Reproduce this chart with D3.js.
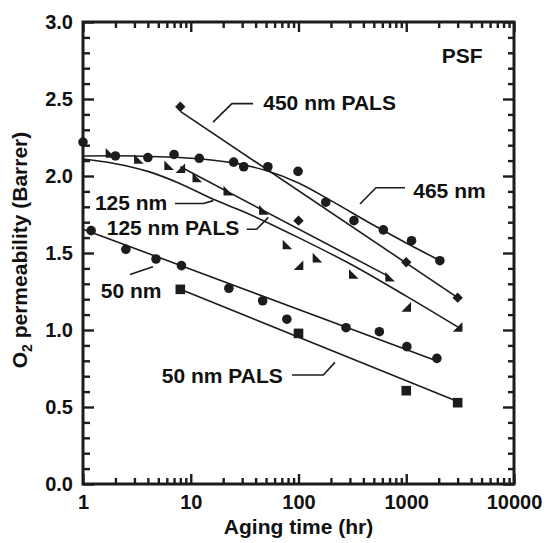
<!DOCTYPE html>
<html><head><meta charset="utf-8">
<script src="https://cdn.jsdelivr.net/npm/d3@7"></script>
<style>
body{margin:0;background:#fff;}
text{font-family:"Liberation Sans",Arial,sans-serif;font-weight:bold;fill:#111;}
</style></head>
<body><svg id="c" width="547" height="543"></svg>
<script>
// ---- data ----
const t465 = [1, 2, 4, 7, 12, 25, 31, 52, 99, 179, 327, 613, 1120, 2050];
const v465 = [2.22, 2.13, 2.12, 2.14, 2.115, 2.09, 2.06, 2.06, 2.03, 1.83, 1.71, 1.65, 1.58, 1.45];
const fitT465 = [1, 3, 10, 25, 50, 100, 200, 500, 1000, 2000];
const fitV465 = [2.13, 2.13, 2.115, 2.085, 2.035, 1.955, 1.84, 1.68, 1.565, 1.455];

const t450P = [8, 100, 1000, 3000];
const v450P = [2.45, 1.71, 1.44, 1.21];
const fitT450P = [8, 3000];
const fitV450P = [2.42, 1.21];

const t125 = [1.8, 3.3, 6.3, 11.5, 22.3, 47.7, 79, 150, 326, 708];
const v125 = [2.15, 2.11, 2.07, 1.99, 1.905, 1.78, 1.555, 1.47, 1.364, 1.346];
const fitT125 = [8, 700];
const fitV125 = [2.06, 1.345];

const t125P = [8, 100, 1000, 3000];
const v125P = [2.05, 1.42, 1.15, 1.02];
const fitT125P = [1, 2, 4, 8, 16, 33, 100, 300, 1000, 3000];
const fitV125P = [2.11, 2.08, 2.03, 1.95, 1.85, 1.76, 1.60, 1.43, 1.22, 1.02];

const t50 = [1.19, 2.5, 4.76, 8.2, 22.6, 46.5, 78, 276, 563, 1013, 1925];
const v50 = [1.645, 1.524, 1.461, 1.418, 1.271, 1.19, 1.07, 1.015, 0.989, 0.892, 0.816];
const fitT50 = [1, 1900];
const fitV50 = [1.655, 0.80];

const t50P = [8, 100, 1000, 3000];
const v50P = [1.264, 0.978, 0.606, 0.528];
const fitT50P = [8, 3000];
const fitV50P = [1.265, 0.535];

const xMajor = [1, 10, 100, 1000, 10000];
const xMajorLabels = ["1", "10", "100", "1000", "10000"];
const yMajor = [0, 0.5, 1.0, 1.5, 2.0, 2.5, 3.0];
const yMajorLabels = ["0.0", "0.5", "1.0", "1.5", "2.0", "2.5", "3.0"];

// annotations in data coordinates [t, v]
const annotations = [
  {text: "PSF", at: [2133, 2.736], leader: []},
  {text: "450 nm PALS", at: [47.1, 2.43], leader: [[37.8, 2.47], [24.1, 2.47], [16.1, 2.35]]},
  {text: "465 nm", at: [1162, 1.855], leader: [[973, 1.924], [524, 1.924], [372, 1.818]]},
  {text: "125 nm", at: [1.29, 1.779], leader: [[7.14, 1.821], [13.1, 1.821], [16.2, 1.84]]},
  {text: "125 nm PALS", at: [1.66, 1.617], leader: [[33.1, 1.654], [40.9, 1.654], [52.5, 1.731]]},
  {text: "50 nm", at: [1.46, 1.206], leader: [[2.73, 1.36], [4.46, 1.411]]},
  {text: "50 nm PALS", at: [5.38, 0.658], leader: [[87, 0.708], [170, 0.708], [218, 0.79]]}
];

// ---- chart ----
const svg = d3.select("#c");
const L = 83, R = 514, T = 22, B = 484;
const x = d3.scaleLog().domain([1, 10000]).range([L, R]);
const y = d3.scaleLinear().domain([0, 3]).range([B, T]);
const ink = "#1e1b1c";

const xMinor = [];
for (let k = 0; k < 4; k++) for (let m = 2; m <= 9; m++) xMinor.push(m * Math.pow(10, k));
const yMinor = d3.range(0, 31).map(d => d / 10).filter(d => Math.round(d * 10) % 5 !== 0);

function styleAxis(g) {
  g.select(".domain").remove();
  g.selectAll(".tick line").attr("stroke", ink).attr("stroke-width", 2.4);
}
// bottom
svg.append("g").attr("transform", `translate(0,${B})`)
  .call(d3.axisBottom(x).tickValues(xMajor).tickFormat((d, i) => xMajorLabels[i]).tickSizeInner(-10).tickSizeOuter(0).tickPadding(11))
  .call(styleAxis)
  .call(g => g.selectAll("text").attr("font-size", 20).attr("font-family", "Liberation Sans, Arial").attr("font-weight", "bold").attr("fill", "#111"));
svg.append("g").attr("transform", `translate(0,${B})`)
  .call(d3.axisBottom(x).tickValues(xMinor).tickFormat("").tickSizeInner(-6).tickSizeOuter(0)).call(styleAxis);
// top
svg.append("g").attr("transform", `translate(0,${T})`)
  .call(d3.axisTop(x).tickValues(xMajor).tickFormat("").tickSizeInner(-10).tickSizeOuter(0)).call(styleAxis);
svg.append("g").attr("transform", `translate(0,${T})`)
  .call(d3.axisTop(x).tickValues(xMinor).tickFormat("").tickSizeInner(-6).tickSizeOuter(0)).call(styleAxis);
// left
svg.append("g").attr("transform", `translate(${L},0)`)
  .call(d3.axisLeft(y).tickValues(yMajor).tickFormat((d, i) => yMajorLabels[i]).tickSizeInner(-11).tickSizeOuter(0).tickPadding(10))
  .call(styleAxis)
  .call(g => g.selectAll("text").attr("font-size", 20).attr("font-family", "Liberation Sans, Arial").attr("font-weight", "bold").attr("fill", "#111"));
svg.append("g").attr("transform", `translate(${L},0)`)
  .call(d3.axisLeft(y).tickValues(yMinor).tickFormat("").tickSizeInner(-7).tickSizeOuter(0)).call(styleAxis);
// right
svg.append("g").attr("transform", `translate(${R},0)`)
  .call(d3.axisRight(y).tickValues(yMajor).tickFormat("").tickSizeInner(-11).tickSizeOuter(0)).call(styleAxis);
svg.append("g").attr("transform", `translate(${R},0)`)
  .call(d3.axisRight(y).tickValues(yMinor).tickFormat("").tickSizeInner(-6).tickSizeOuter(0)).call(styleAxis);

// frame
svg.append("rect").attr("x", L).attr("y", T).attr("width", R - L).attr("height", B - T)
  .attr("fill", "none").attr("stroke", ink).attr("stroke-width", 3);

// axis titles
const yt = svg.append("text").attr("transform", `translate(27,${(T + B) / 2 - 3}) rotate(-90)`)
  .attr("text-anchor", "middle").attr("font-size", 21);
yt.append("tspan").text("O");
yt.append("tspan").attr("font-size", 14).attr("dy", 5).text("2");
yt.append("tspan").attr("dy", -5).text(" permeability (Barrer)");
svg.append("text").attr("x", (L + R) / 2).attr("y", 534).attr("text-anchor", "middle")
  .attr("font-size", 21).text("Aging time (hr)");

// lines
const line = d3.line().x(d => x(d[0])).y(d => y(d[1]));
const curve = d3.line().x(d => x(d[0])).y(d => y(d[1])).curve(d3.curveCatmullRom.alpha(0.5));
const zip = (a, b) => a.map((d, i) => [d, b[i]]);
const lineG = svg.append("g").attr("fill", "none").attr("stroke", ink).attr("stroke-width", 1.6);
lineG.append("path").attr("d", curve(zip(fitT465, fitV465)));
lineG.append("path").attr("d", line(zip(fitT450P, fitV450P)));
lineG.append("path").attr("d", line(zip(fitT125, fitV125)));
lineG.append("path").attr("d", curve(zip(fitT125P, fitV125P)));
lineG.append("path").attr("d", line(zip(fitT50, fitV50)));
lineG.append("path").attr("d", line(zip(fitT50P, fitV50P)));

// markers
const mk = svg.append("g").attr("fill", ink);
mk.selectAll(".c465").data(zip(t465, v465)).join("circle")
  .attr("cx", d => x(d[0])).attr("cy", d => y(d[1])).attr("r", 4.8);
mk.selectAll(".c50").data(zip(t50, v50)).join("circle")
  .attr("cx", d => x(d[0])).attr("cy", d => y(d[1])).attr("r", 4.8);
mk.selectAll(".d450").data(zip(t450P, v450P)).join("path")
  .attr("transform", d => `translate(${x(d[0])},${y(d[1])})`).attr("d", "M0,-5.2L5.2,0L0,5.2L-5.2,0Z");
mk.selectAll(".s50").data(zip(t50P, v50P)).join("rect")
  .attr("x", d => x(d[0]) - 4.8).attr("y", d => y(d[1]) - 4.8).attr("width", 9.6).attr("height", 9.6);
const s = 4.8;
mk.selectAll(".tri125").data(zip(t125, v125)).join("path")
  .attr("transform", d => `translate(${x(d[0])},${y(d[1])})`)
  .attr("d", `M${-s},${-s}L${-s},${s}L${s},${s}Z`);
mk.selectAll(".tri125P").data(zip(t125P, v125P)).join("path")
  .attr("transform", d => `translate(${x(d[0])},${y(d[1])})`)
  .attr("d", `M${s},${-s}L${s},${s}L${-s},${s}Z`);

// annotations
const ag = svg.append("g");
annotations.forEach(a => {
  ag.append("text").attr("x", x(a.at[0])).attr("y", y(a.at[1])).attr("font-size", 21).text(a.text);
  if (a.leader.length) {
    ag.append("path").attr("d", line(a.leader)).attr("fill", "none").attr("stroke", ink).attr("stroke-width", 1.6);
  }
});
</script></body></html>
